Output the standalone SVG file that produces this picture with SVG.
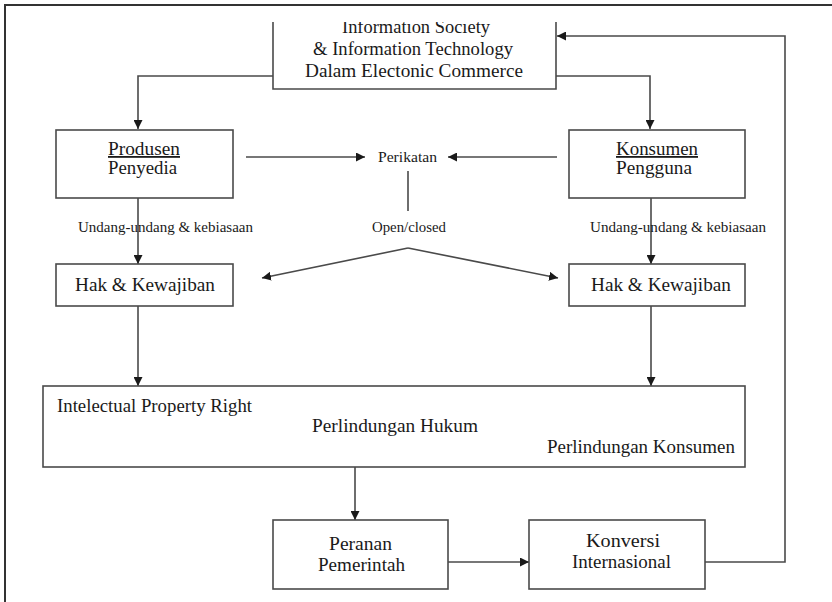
<svg xmlns="http://www.w3.org/2000/svg" width="832" height="602" viewBox="0 0 832 602">
<style>
  .box { fill: #fff; stroke: #4a4a4a; stroke-width: 1.6; }
  .ln { fill: none; stroke: #4a4a4a; stroke-width: 1.6; }
  .t { font-family: "Liberation Serif", "Times New Roman", serif; fill: #1a1a1a; }
  .big { font-size: 18px; }
  .mid { font-size: 16px; }
  .sm { font-size: 14px; }
</style>
<defs>
  <marker id="ah" viewBox="0 0 10 10" refX="10" refY="5" markerWidth="9" markerHeight="9" markerUnits="userSpaceOnUse" orient="auto">
    <path d="M0,0 L10,5 L0,10 z" fill="#1a1a1a"/>
  </marker>
  <clipPath id="topclip"><rect x="260" y="22" width="310" height="80"/></clipPath>
</defs>
<rect width="832" height="602" fill="#fff"/>
<g id="frame">
  <line x1="4" y1="5" x2="832" y2="5" stroke="#333" stroke-width="2"/>
  <line x1="5" y1="4" x2="5" y2="602" stroke="#333" stroke-width="2"/>
</g>
<g id="connectors">
  <polyline class="ln" points="273,76 138,76 138,129" marker-end="url(#ah)"/>
  <polyline class="ln" points="556,76 650,76 650,129" marker-end="url(#ah)"/>
  <line class="ln" x1="246" y1="157" x2="365" y2="157" marker-end="url(#ah)"/>
  <line class="ln" x1="557" y1="157" x2="448" y2="157" marker-end="url(#ah)"/>
  <line class="ln" x1="408" y1="171" x2="408" y2="211"/>
  <line class="ln" x1="408" y1="248" x2="262" y2="278" marker-end="url(#ah)"/>
  <line class="ln" x1="408" y1="248" x2="558" y2="278" marker-end="url(#ah)"/>
  <line class="ln" x1="138" y1="198" x2="138" y2="264" marker-end="url(#ah)"/>
  <line class="ln" x1="651" y1="198" x2="651" y2="264" marker-end="url(#ah)"/>
  <line class="ln" x1="138" y1="306" x2="138" y2="386" marker-end="url(#ah)"/>
  <line class="ln" x1="651" y1="306" x2="651" y2="386" marker-end="url(#ah)"/>
  <line class="ln" x1="355" y1="467" x2="355" y2="520" marker-end="url(#ah)"/>
  <line class="ln" x1="448" y1="562" x2="529" y2="562" marker-end="url(#ah)"/>
  <polyline class="ln" points="705,562 785,562 785,36 557,36" marker-end="url(#ah)"/>
  <text class="t sm" x="78" y="232" textLength="175" lengthAdjust="spacingAndGlyphs">Undang-undang &amp; kebiasaan</text>
  <text class="t sm" x="590" y="232" textLength="176" lengthAdjust="spacingAndGlyphs">Undang-undang &amp; kebiasaan</text>
  <text class="t sm" x="372" y="232" textLength="74" lengthAdjust="spacingAndGlyphs">Open/closed</text>
</g>
<g id="n-top">
  <polyline class="ln" points="273,22 273,89 556,89 556,22"/>
  <g clip-path="url(#topclip)">
    <text class="t big" x="342" y="33" textLength="148" lengthAdjust="spacingAndGlyphs">Information Society</text>
  </g>
  <text class="t big" x="313" y="55" textLength="200" lengthAdjust="spacingAndGlyphs">&amp; Information Technology</text>
  <text class="t big" x="305" y="77" textLength="218" lengthAdjust="spacingAndGlyphs">Dalam Electonic Commerce</text>
</g>
<g id="n-produsen">
  <rect class="box" x="56" y="130" width="177" height="68"/>
  <text class="t big" x="108" y="155" textLength="72" lengthAdjust="spacingAndGlyphs" text-decoration="underline">Produsen</text>
  <text class="t big" x="108" y="174" textLength="69" lengthAdjust="spacingAndGlyphs">Penyedia</text>
</g>
<g id="n-perikatan">
  <text class="t sm" x="378" y="162" textLength="59" lengthAdjust="spacingAndGlyphs">Perikatan</text>
</g>
<g id="n-konsumen">
  <rect class="box" x="569" y="130" width="176" height="68"/>
  <text class="t big" x="616" y="155" textLength="82" lengthAdjust="spacingAndGlyphs" text-decoration="underline">Konsumen</text>
  <text class="t big" x="616" y="174" textLength="76" lengthAdjust="spacingAndGlyphs">Pengguna</text>
</g>
<g id="n-hak-left">
  <rect class="box" x="56" y="264" width="177" height="42"/>
  <text class="t big" x="75" y="291" textLength="140" lengthAdjust="spacingAndGlyphs">Hak &amp; Kewajiban</text>
</g>
<g id="n-hak-right">
  <rect class="box" x="569" y="264" width="176" height="42"/>
  <text class="t big" x="591" y="291" textLength="140" lengthAdjust="spacingAndGlyphs">Hak &amp; Kewajiban</text>
</g>
<g id="n-perlindungan">
  <rect class="box" x="43" y="386" width="702" height="81"/>
  <text class="t big" x="57" y="412" textLength="195" lengthAdjust="spacingAndGlyphs">Intelectual Property Right</text>
  <text class="t big" x="312" y="432" textLength="166" lengthAdjust="spacingAndGlyphs">Perlindungan Hukum</text>
  <text class="t big" x="547" y="453" textLength="188" lengthAdjust="spacingAndGlyphs">Perlindungan Konsumen</text>
</g>
<g id="n-peranan">
  <rect class="box" x="273" y="520" width="175" height="69"/>
  <text class="t big" x="329" y="550" textLength="63" lengthAdjust="spacingAndGlyphs">Peranan</text>
  <text class="t big" x="318" y="571" textLength="87" lengthAdjust="spacingAndGlyphs">Pemerintah</text>
</g>
<g id="n-konversi">
  <rect class="box" x="529" y="520" width="176" height="69"/>
  <text class="t big" x="586" y="547" textLength="74" lengthAdjust="spacingAndGlyphs">Konversi</text>
  <text class="t big" x="572" y="568" textLength="99" lengthAdjust="spacingAndGlyphs">Internasional</text>
</g>
</svg>
